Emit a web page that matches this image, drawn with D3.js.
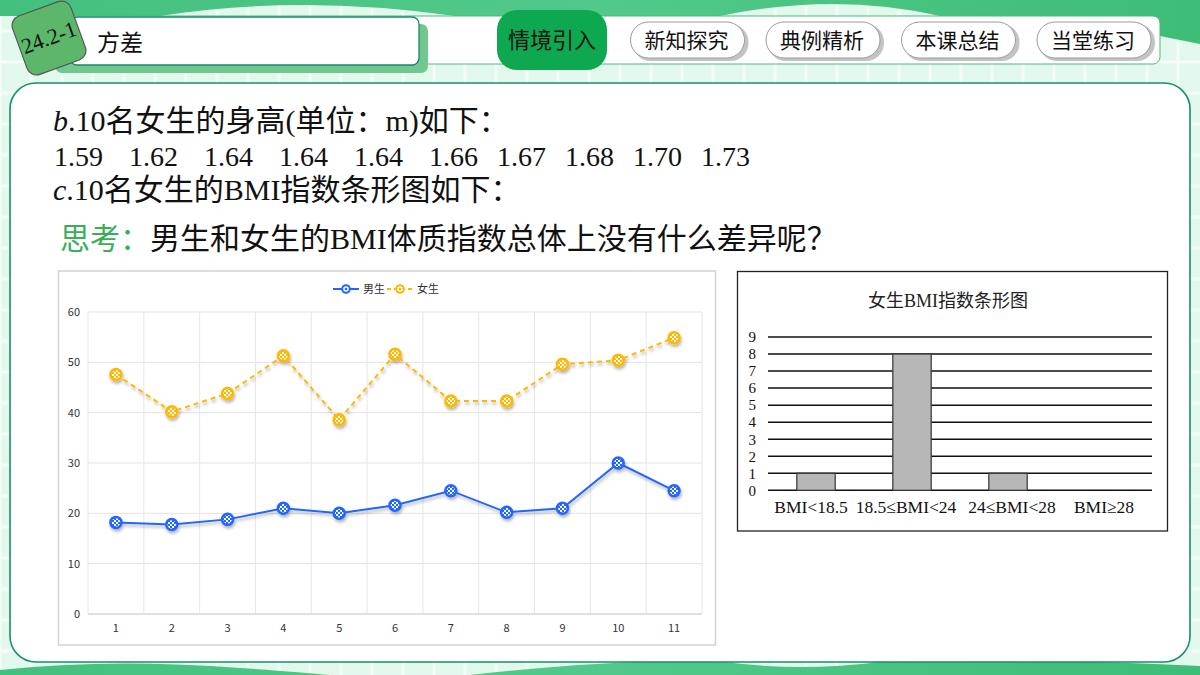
<!DOCTYPE html>
<html>
<head>
<meta charset="utf-8">
<script src="https://cdn.jsdelivr.net/npm/d3@7/dist/d3.min.js"></script>
<style>
	body { margin: 0; background: #fff; }
	svg { display: block; }
</style>
</head>
<body>
<svg id="slide" width="1200" height="675"></svg>
<script>
// Slide data
const lessonTag = "24.2-1"
const lessonTitle = "方差"
const navItems = ["情境引入", "新知探究", "典例精析", "本课总结", "当堂练习"]
const girlHeights = ["1.59", "1.62", "1.64", "1.64", "1.64", "1.66", "1.67", "1.68", "1.70", "1.73"]

// Line chart (BMI of 11 students)
const lineCategories = ["1", "2", "3", "4", "5", "6", "7", "8", "9", "10", "11"]
const lineSeries = ["男生", "女生"]
const boyValues = [18.2, 17.8, 18.8, 21.0, 20.0, 21.6, 24.5, 20.2, 21.0, 30.0, 24.5]
const girlValues = [47.6, 40.2, 43.8, 51.3, 38.6, 51.6, 42.3, 42.3, 49.6, 50.4, 54.9]
const lineTicks = [0, 10, 20, 30, 40, 50, 60]

// Bar chart (girls' BMI counts)
const barTitle = "女生BMI指数条形图"
const bmiCategories = ["BMI<18.5", "18.5≤BMI<24", "24≤BMI<28", "BMI≥28"]
const bmiCounts = [1, 8, 1, 0]
const barTicks = [0, 1, 2, 3, 4, 5, 6, 7, 8, 9]

const cjk = "'Noto Sans CJK SC', 'Noto Sans', sans-serif"
const mixed = "'Liberation Serif', 'Noto Sans CJK SC', serif"
const boyColour = "#2166ff"
const girlColour = "#ffb700"

const svg = d3.select("#slide")
const defs = svg.append("defs")

// Background: mint grid, green bands top and bottom
const bg = svg.append("g").attr("class", "background")
bg.append("rect")
	.attr("width", 1200)
	.attr("height", 675)
	.attr("fill", "#e2f8ec")
bg.append("g")
	.selectAll("line")
	.data(d3.range(0, 1200, 31))
	.join("line")
	.attr("x1", d => d).attr("x2", d => d)
	.attr("y1", 0).attr("y2", 675)
	.attr("stroke", "#f3fdf7")
	.attr("stroke-width", 3)
bg.append("g")
	.selectAll("line")
	.data(d3.range(0, 675, 31))
	.join("line")
	.attr("y1", d => d).attr("y2", d => d)
	.attr("x1", 0).attr("x2", 1200)
	.attr("stroke", "#f3fdf7")
	.attr("stroke-width", 3)

const bandGrad = defs.append("linearGradient")
	.attr("id", "bandGrad")
	.attr("x1", 0).attr("x2", 1).attr("y1", 0).attr("y2", 0)
bandGrad.append("stop").attr("offset", 0).attr("stop-color", "#44c07e")
bandGrad.append("stop").attr("offset", 0.5).attr("stop-color", "#52c98a")
bandGrad.append("stop").attr("offset", 1).attr("stop-color", "#3dbd76")

bg.append("path")
	.attr("d", "M0,0 H1200 V44 Q1160,36 1120,28 L1100,16 H940 Q835,-8 720,16 H455 Q300,-6 160,16 H0 Z")
	.attr("fill", "url(#bandGrad)")
bg.append("path")
	.attr("d", "M0,675 V670 Q110,658 240,668 Q300,672 330,675 Z M470,675 Q620,658 725,662 Q800,672 880,662 Q1050,658 1200,666 V675 Z")
	.attr("fill", "url(#bandGrad)")

// Header: nav strip, title box, badge
const header = svg.append("g").attr("class", "header")
header.append("rect")
	.attr("x", 60).attr("y", 16)
	.attr("width", 1100).attr("height", 48)
	.attr("rx", 7)
	.attr("fill", "#fff")
	.attr("stroke", "#4cb97a")
	.attr("stroke-width", 1)
header.append("rect")
	.attr("x", 55).attr("y", 24)
	.attr("width", 373).attr("height", 49)
	.attr("rx", 7)
	.attr("fill", "#72c690")
header.append("rect")
	.attr("x", 70).attr("y", 17)
	.attr("width", 349).attr("height", 48)
	.attr("rx", 7)
	.attr("fill", "#fff")
	.attr("stroke", "#178a68")
	.attr("stroke-width", 1.3)
header.append("text")
	.attr("x", 97).attr("y", 51)
	.attr("font-family", cjk)
	.attr("font-size", 23)
	.attr("fill", "#111")
	.text(lessonTitle)

const badge = header.append("g")
	.attr("transform", "translate(49,38) rotate(-20)")
badge.append("rect")
	.attr("x", -31).attr("y", -31)
	.attr("width", 62).attr("height", 62)
	.attr("rx", 10)
	.attr("fill", "#5cb76b")
	.attr("stroke", "#555")
	.attr("stroke-width", 1.2)
badge.append("text")
	.attr("y", 7)
	.attr("text-anchor", "middle")
	.attr("font-family", "'Liberation Serif', serif")
	.attr("font-size", 22)
	.attr("fill", "#111")
	.text(lessonTag)

const navX = d3.scalePoint()
	.domain(navItems)
	.range([552, 1094])

const nav = header.selectAll("g.nav")
	.data(navItems)
	.join("g")
	.attr("class", "nav")
	.attr("transform", d => `translate(${navX(d)},40)`)

nav.each(function(d, i) {
	const g = d3.select(this)
	if (i === 0) {
		g.append("rect")
			.attr("x", -55).attr("y", -30)
			.attr("width", 110).attr("height", 60)
			.attr("rx", 20)
			.attr("fill", "#0ea850")
	} else {
		g.append("rect")
			.attr("x", -55).attr("y", -16)
			.attr("width", 116).attr("height", 37)
			.attr("rx", 18)
			.attr("fill", "#c4c4c4")
		g.append("rect")
			.attr("x", -57).attr("y", -18)
			.attr("width", 114).attr("height", 36)
			.attr("rx", 18)
			.attr("fill", "#fff")
			.attr("stroke", "#9a9a9a")
			.attr("stroke-width", 1)
	}
	g.append("text")
		.attr("x", i === 0 ? 0 : -1)
		.attr("y", 8)
		.attr("text-anchor", "middle")
		.attr("font-family", cjk)
		.attr("font-size", i === 0 ? 22 : 21)
		.attr("fill", "#111")
		.text(d)
})

// Main content panel
svg.append("rect")
	.attr("x", 10).attr("y", 83)
	.attr("width", 1180).attr("height", 579)
	.attr("rx", 26)
	.attr("fill", "#fff")
	.attr("stroke", "#17906a")
	.attr("stroke-width", 1.6)

// Text lines
const body = svg.append("g")
	.attr("font-family", mixed)
	.attr("font-size", 30)
	.attr("fill", "#111")

const line1 = body.append("text").attr("x", 53).attr("y", 131)
line1.append("tspan").attr("font-style", "italic").text("b")
line1.append("tspan").text(".10名女生的身高(单位：m)如下：")

const heightsLine = body.append("text")
	.attr("y", 166)
	.attr("font-size", 28)
heightsLine.selectAll("tspan")
	.data(girlHeights)
	.join("tspan")
	.attr("x", (d, i) => 54 + (i < 6 ? i * 75 : 5 * 75 + (i - 5) * 68))
	.text(d => d)

const line3 = body.append("text").attr("x", 53).attr("y", 200)
line3.append("tspan").attr("font-style", "italic").text("c")
line3.append("tspan").text(".10名女生的BMI指数条形图如下：")

const think = body.append("text").attr("x", 60).attr("y", 249)
think.append("tspan")
	.attr("font-family", cjk)
	.attr("fill", "#3aad57")
	.text("思考：")
think.append("tspan")
	.text("男生和女生的BMI体质指数总体上没有什么差异呢？")

// ---------- Line chart ----------
const lc = svg.append("g").attr("class", "lineChart")
lc.append("rect")
	.attr("x", 58.5).attr("y", 271)
	.attr("width", 657).attr("height", 374)
	.attr("fill", "#fff")
	.attr("stroke", "#d2d2d2")
	.attr("stroke-width", 1.5)

const lx = d3.scaleBand()
	.domain(lineCategories)
	.range([88, 702])
const ly = d3.scaleLinear()
	.domain([0, 60])
	.range([614, 312])

const shadow = defs.append("filter")
	.attr("id", "shadow")
	.attr("x", "-20%").attr("y", "-20%")
	.attr("width", "140%").attr("height", "160%")
shadow.append("feDropShadow")
	.attr("dx", 1).attr("dy", 2.5)
	.attr("stdDeviation", 1.4)
	.attr("flood-color", "#000")
	.attr("flood-opacity", 0.3)

// Checker fill for markers
const checker = (id, colour) => {
	const p = defs.append("pattern")
		.attr("id", id)
		.attr("patternUnits", "userSpaceOnUse")
		.attr("width", 4).attr("height", 4)
	p.append("rect").attr("width", 4).attr("height", 4).attr("fill", "#fff")
	p.append("rect").attr("width", 2).attr("height", 2).attr("fill", colour)
	p.append("rect").attr("x", 2).attr("y", 2).attr("width", 2).attr("height", 2).attr("fill", colour)
}
checker("boyFill", boyColour)
checker("girlFill", girlColour)

// Grid
lc.append("g")
	.selectAll("line")
	.data(lineTicks)
	.join("line")
	.attr("x1", lx.range()[0]).attr("x2", lx.range()[1])
	.attr("y1", d => ly(d)).attr("y2", d => ly(d))
	.attr("stroke", d => d === 0 ? "#d6d6d6" : "#e3e3e3")
	.attr("stroke-width", d => d === 0 ? 1.5 : 1)
lc.append("g")
	.selectAll("line")
	.data(lineCategories.concat(["end"]))
	.join("line")
	.attr("x1", (d, i) => lx.range()[0] + i * lx.step())
	.attr("x2", (d, i) => lx.range()[0] + i * lx.step())
	.attr("y1", ly(60)).attr("y2", ly(0))
	.attr("stroke", "#e6e6e6")

const yAxis = lc.append("g")
	.attr("transform", `translate(${lx.range()[0]},0)`)
	.call(d3.axisLeft(ly).tickValues(lineTicks).tickSize(0).tickPadding(8))
yAxis.select(".domain").remove()
yAxis.selectAll("text")
	.attr("font-family", cjk)
	.attr("font-size", 11)
	.attr("fill", "#333")

const xAxis = lc.append("g")
	.attr("transform", `translate(0,${ly(0)})`)
	.call(d3.axisBottom(lx).tickSize(0).tickPadding(10))
xAxis.select(".domain").remove()
xAxis.selectAll("text")
	.attr("font-family", cjk)
	.attr("font-size", 11)
	.attr("fill", "#333")

const lineGen = d3.line()
	.x((d, i) => lx(lineCategories[i]) + lx.bandwidth() / 2)
	.y(d => ly(d))

const seriesData = [
	{ name: lineSeries[0], values: boyValues, colour: boyColour, dash: null, fill: "url(#boyFill)" },
	{ name: lineSeries[1], values: girlValues, colour: girlColour, dash: "5,4", fill: "url(#girlFill)" },
]

const series = lc.selectAll("g.series")
	.data(seriesData)
	.join("g")
	.attr("class", "series")
	.attr("filter", "url(#shadow)")

series.append("path")
	.attr("d", d => lineGen(d.values))
	.attr("fill", "none")
	.attr("stroke", d => d.colour)
	.attr("stroke-width", 2)
	.attr("stroke-dasharray", d => d.dash)

series.selectAll("circle")
	.data(d => d.values.map((v, i) => ({ v, i, s: d })))
	.join("circle")
	.attr("cx", d => lx(lineCategories[d.i]) + lx.bandwidth() / 2)
	.attr("cy", d => ly(d.v))
	.attr("r", 5.5)
	.attr("fill", d => d.s.fill)
	.attr("stroke", d => d.s.colour)
	.attr("stroke-width", 2.5)

// Legend
const legend = lc.selectAll("g.legend")
	.data(seriesData)
	.join("g")
	.attr("class", "legend")
	.attr("transform", (d, i) => `translate(${333 + i * 54},289)`)
legend.append("line")
	.attr("x1", 0).attr("x2", 26)
	.attr("stroke", d => d.colour)
	.attr("stroke-width", 2)
	.attr("stroke-dasharray", d => d.dash ? "4,3" : null)
legend.append("circle")
	.attr("cx", 13)
	.attr("r", 3.8)
	.attr("fill", "#fff")
	.attr("stroke", d => d.colour)
	.attr("stroke-width", 2)
legend.append("circle")
	.attr("cx", 13)
	.attr("r", 1.3)
	.attr("fill", d => d.colour)
legend.append("text")
	.attr("x", 30).attr("y", 4)
	.attr("font-family", cjk)
	.attr("font-size", 11)
	.attr("fill", "#333")
	.text(d => d.name)

// ---------- Bar chart ----------
const bc = svg.append("g").attr("class", "barChart")
bc.append("rect")
	.attr("x", 737.5).attr("y", 271.5)
	.attr("width", 430).attr("height", 259.5)
	.attr("fill", "#fff")
	.attr("stroke", "#222")
	.attr("stroke-width", 1.3)

bc.append("text")
	.attr("x", 948).attr("y", 307)
	.attr("text-anchor", "middle")
	.attr("font-family", mixed)
	.attr("font-size", 18)
	.attr("fill", "#222")
	.text(barTitle)

const bx = d3.scaleBand()
	.domain(bmiCategories)
	.range([768, 1152])
	.paddingInner(0.6)
	.paddingOuter(0.3)
const by = d3.scaleLinear()
	.domain([0, 9])
	.range([490.3, 337])

bc.append("g")
	.selectAll("line")
	.data(barTicks)
	.join("line")
	.attr("x1", 768).attr("x2", 1152)
	.attr("y1", d => by(d)).attr("y2", d => by(d))
	.attr("stroke", "#111")
	.attr("stroke-width", 1.5)

bc.append("g")
	.selectAll("rect")
	.data(bmiCounts)
	.join("rect")
	.attr("x", (d, i) => bx(bmiCategories[i]))
	.attr("y", d => by(d))
	.attr("width", bx.bandwidth())
	.attr("height", d => by(0) - by(d))
	.attr("fill", "#b7b7b7")
	.attr("stroke", "#333")
	.attr("stroke-width", d => d > 0 ? 1.2 : 0)

const bYAxis = bc.append("g")
	.attr("transform", "translate(768,0)")
	.call(d3.axisLeft(by).tickValues(barTicks).tickSize(0).tickPadding(12))
bYAxis.select(".domain").remove()
bYAxis.selectAll("text")
	.attr("font-family", "'Liberation Serif', serif")
	.attr("font-size", 15)
	.attr("fill", "#111")

// Category labels sit slightly off-centre in the original, pull the middle pair apart
const bXAxis = bc.append("g")
	.attr("transform", `translate(0,${by(0)})`)
	.call(d3.axisBottom(bx).tickSize(0).tickPadding(10))
bXAxis.select(".domain").remove()
bXAxis.selectAll("text")
	.attr("font-family", "'Liberation Serif', serif")
	.attr("font-size", 17.5)
	.attr("fill", "#111")
	.attr("dx", (d, i) => [-5, -6, 4, 0][i])
</script>
</body>
</html>
